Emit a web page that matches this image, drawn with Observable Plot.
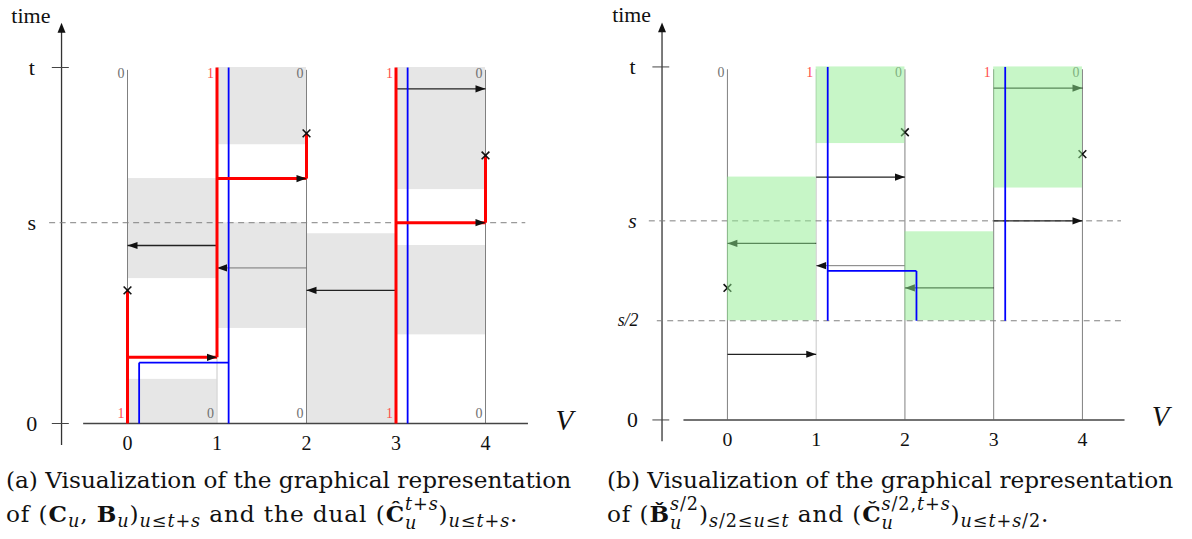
<!DOCTYPE html>
<html>
<head>
<meta charset="utf-8">
<script src="https://cdn.jsdelivr.net/npm/d3@7"></script>
<script src="https://cdn.jsdelivr.net/npm/@observablehq/plot@0.6"></script>
<style>
  html, body { margin: 0; padding: 0; background: #fff; }
  #wrap { position: relative; width: 1192px; height: 539px; overflow: hidden; }
  .panel { position: absolute; top: 0; }
  .cap { position: absolute; font-family: "DejaVu Serif", serif; font-size: 23.2px; line-height: 33.5px; color: #111; white-space: nowrap; }
  .cap .l2 { letter-spacing: 0.9px; }
  .cap sub { font-size: 0.76em; line-height: 0; vertical-align: -0.3em; }
  .cap .ss { display: inline-flex; flex-direction: column; align-items: flex-start; font-size: 0.76em; line-height: 1.1; vertical-align: 0.68em; margin-top: -6px; margin-bottom: -6px; }
  .cap .ss > span { display: block; }
</style>
</head>
<body>
<div id="wrap">
  <div class="panel" id="pa" style="left:0px"></div>
  <div class="panel" id="pb" style="left:601px"></div>
  <div class="cap" style="left:6px; top:463px">(a) Visualization of the graphical representation<br><span class="l2">of (<b>C</b><sub><i>u</i></sub>, <b>B</b><sub><i>u</i></sub>)<sub><i>u</i>≤<i>t</i>+<i>s</i></sub> and the dual (<b>Ĉ</b><span class="ss"><span><i>t</i>+<i>s</i></span><span><i>u</i></span></span>)<sub><i>u</i>≤<i>t</i>+<i>s</i></sub>.</span></div>
  <div class="cap" style="left:607px; top:463px">(b) Visualization of the graphical representation<br><span class="l2">of (<b>B&#780;</b><span class="ss"><span><i>s</i>/2</span><span><i>u</i></span></span>)<sub><i>s</i>/2≤<i>u</i>≤<i>t</i></sub> and (<b>Č</b><span class="ss"><span><i>s</i>/2,<i>t</i>+<i>s</i></span><span><i>u</i></span></span>)<sub><i>u</i>≤<i>t</i>+<i>s</i>/2</sub>.</span></div>
</div>
<script>
// ---- data (time measured so that t = 100) ----
const T = 100, S = 56.4, S2 = 28.1;
const columns = [0, 1, 2, 3, 4];
const xTicks = [0, 1, 2, 3, 4];
const topLabels = ["0", "1", "0", "1", "0"];
const bottomLabelsA = ["1", "0", "0", "1", "0"];
const yLabelsA = [{v: T, text: "t"}, {v: S, text: "s"}, {v: 0, text: "0"}];
const yLabelsB = [{v: T, text: "t"}, {v: S, text: "s", it: true}, {v: S2, text: "s/2", it: true}, {v: 0, text: "0"}];

const grayRectsA = [
  {x1: 1, x2: 2, y1: 78.3, y2: 100},
  {x1: 0, x2: 1, y1: 40.7, y2: 68.8},
  {x1: 1, x2: 2, y1: 26.7, y2: 56.4},
  {x1: 2, x2: 3, y1: 0, y2: 53.3},
  {x1: 3, x2: 4, y1: 65.7, y2: 100},
  {x1: 3, x2: 4, y1: 24.9, y2: 50.0},
  {x1: 0, x2: 1, y1: 0, y2: 12.4}
];
const greenRectsB = [
  {x1: 1, x2: 2, y1: 78.3, y2: 100},
  {x1: 0, x2: 1, y1: 28.1, y2: 68.8},
  {x1: 3, x2: 4, y1: 65.7, y2: 100},
  {x1: 2, x2: 3, y1: 28.1, y2: 53.3}
];
const arrowsA = [
  {x1: 3, x2: 4, y: 94},
  {x1: 1, x2: 0, y: 50},
  {x1: 2, x2: 1, y: 43.7, faint: true},
  {x1: 3, x2: 2, y: 37.4}
];
const redArrowsA = [
  {x1: 0, x2: 1, y: 18.6},
  {x1: 1, x2: 2, y: 68.8},
  {x1: 3, x2: 4, y: 56.4}
];
const redVerticalsA = [
  {x: 0, y1: 0, y2: 37.4},
  {x: 1, y1: 18.6, y2: 100},
  {x: 2, y1: 68.8, y2: 81.5},
  {x: 3, y1: 0, y2: 100},
  {x: 4, y1: 56.4, y2: 75.3}
];
const crosses = [{x: 0, y: 37.4}, {x: 2, y: 81.5}, {x: 4, y: 75.3}];
const blueA = [
  {x1: 0.13, y1: 0, x2: 0.13, y2: 17.1},
  {x1: 0.13, y1: 17.1, x2: 1.13, y2: 17.1},
  {x1: 1.13, y1: 0, x2: 1.13, y2: 100},
  {x1: 3.13, y1: 0, x2: 3.13, y2: 100}
];
const blueB = [
  {x1: 1.13, y1: 28.1, x2: 1.13, y2: 100},
  {x1: 1.13, y1: 42.2, x2: 2.13, y2: 42.2},
  {x1: 2.13, y1: 28.1, x2: 2.13, y2: 42.2},
  {x1: 3.13, y1: 28.1, x2: 3.13, y2: 100}
];
const arrowsB = [
  {x1: 3, x2: 4, y: 94},
  {x1: 1, x2: 2, y: 68.8},
  {x1: 3, x2: 4, y: 56.4},
  {x1: 1, x2: 0, y: 50},
  {x1: 2, x2: 1, y: 43.7, faint: true},
  {x1: 3, x2: 2, y: 37.4},
  {x1: 0, x2: 1, y: 18.6}
];

// ---- layout constants (data units) ----
const AX = -0.737;       // time axis position
const FONT = "'Liberation Serif', 'DejaVu Serif', serif";

const headRight = {draw(ctx) { ctx.moveTo(0, 0); ctx.lineTo(-10, -3.6); ctx.lineTo(-10, 3.6); ctx.closePath(); }};
const headLeft  = {draw(ctx) { ctx.moveTo(0, 0); ctx.lineTo(10, -3.6); ctx.lineTo(10, 3.6); ctx.closePath(); }};
const headUp    = {draw(ctx) { ctx.moveTo(0, 0); ctx.lineTo(-4, 10); ctx.lineTo(4, 10); ctx.closePath(); }};

function arrowMarks(data) {
  const strong = data.filter(d => !d.faint), faint = data.filter(d => d.faint);
  return [
    Plot.link(strong, {x1: "x1", x2: "x2", y1: "y", y2: "y", stroke: "#222", strokeWidth: 1.3}),
    Plot.link(faint, {x1: "x1", x2: "x2", y1: "y", y2: "y", stroke: "#6a6a6a", strokeWidth: 0.9}),
    Plot.dot(data.filter(d => d.x2 > d.x1), {x: "x2", y: "y", symbol: headRight, fill: "#111", stroke: "none"}),
    Plot.dot(data.filter(d => d.x2 < d.x1), {x: "x2", y: "y", symbol: headLeft, fill: "#111", stroke: "none"})
  ];
}

function axisMarks(yLabels, dashed) {
  return [
    Plot.ruleX([AX], {y1: -6.2, y2: 110, stroke: "#333", strokeWidth: 1.3}),
    Plot.dot([0], {x: AX, y: 112.6, symbol: headUp, fill: "#111", stroke: "none"}),
    Plot.ruleY([0], {x1: -0.49, x2: 4.48, stroke: "#444", strokeWidth: 1.4}),
    Plot.ruleY([0, T], {x1: -0.84, x2: -0.65, stroke: "#444", strokeWidth: 1}),
    ...dashed.map(d => Plot.ruleY([d.v], {x1: d.a, x2: d.b, stroke: "#808080", strokeWidth: 1, strokeDasharray: "6,4.5"})),
    Plot.text(["time"], {x: -1.08, y: 114.6, text: d => d, fontSize: 22, fill: "#111"}),
    Plot.text(yLabels.filter(d => !d.it), {x: -1.07, y: "v", text: "text", fontSize: 22, fill: "#111"}),
    Plot.text(yLabels.filter(d => d.it && d.text === "s"), {x: -1.07, y: "v", text: "text", fontSize: 22, fontStyle: "italic", fill: "#111"}),
    Plot.text(yLabels.filter(d => d.text === "s/2"), {x: -1.12, y: "v", text: "text", fontSize: 18, fontStyle: "italic", fill: "#111"}),
    Plot.text(xTicks, {x: d => d, y: -5.6, text: d => String(d), fontSize: 20, fill: "#111"}),
    Plot.text(["V"], {x: 4.88, y: 0.8, text: d => d, fontSize: 29, fontStyle: "italic", fill: "#111"})
  ];
}

function labelMarks(labels, yv) {
  const items = columns.map((c, i) => ({c, label: labels[i]}));
  return [
    Plot.text(items.filter(d => d.label === "1"), {x: "c", y: yv, dx: -3, textAnchor: "end", text: "label", fill: "#ff4d4d", fontSize: 14}),
    Plot.text(items.filter(d => d.label !== "1"), {x: "c", y: yv, dx: -3, textAnchor: "end", text: "label", fill: "#707070", fontSize: 14})
  ];
}

function columnMarks(bottom) {
  const m = [
    Plot.ruleX(columns.filter(c => c !== 1), {x: d => d, y1: 0, y2: 99.2, stroke: "#808080", strokeWidth: 1}),
    Plot.ruleX(columns.filter(c => c === 1), {x: d => d, y1: 0, y2: 99.2, stroke: "#c8c8c8", strokeWidth: 1}),
    ...labelMarks(topLabels, 98.3)
  ];
  if (bottom) m.push(...labelMarks(bottom, 2.8));
  return m;
}

const common = {
  width: 596, height: 460, margin: 0,
  x: {domain: [0, 4], range: [127, 485], axis: null},
  y: {domain: [0, 100], range: [423, 67], axis: null},
  style: {fontFamily: FONT, background: "transparent", overflow: "visible"}
};

const plotA = Plot.plot({
  ...common,
  marks: [
    Plot.rect(grayRectsA, {x1: "x1", x2: "x2", y1: "y1", y2: "y2", fill: "#e6e6e6"}),
    ...columnMarks(bottomLabelsA),
    ...axisMarks(yLabelsA, [{v: S, a: -0.87, b: 4.45}]),
    ...arrowMarks(arrowsA),
    Plot.link(blueA, {x1: "x1", y1: "y1", x2: "x2", y2: "y2", stroke: "#0000ff", strokeWidth: 1.8}),
    Plot.link(redVerticalsA, {x1: "x", x2: "x", y1: "y1", y2: "y2", stroke: "#ff0000", strokeWidth: 3}),
    Plot.link(redArrowsA, {x1: "x1", x2: "x2", y1: "y", y2: "y", stroke: "#ff0000", strokeWidth: 3}),
    Plot.dot(redArrowsA, {x: "x2", y: "y", symbol: headRight, fill: "#111", stroke: "none"}),
    Plot.dot(crosses, {x: "x", y: "y", symbol: "times", r: 3.6, stroke: "#111", strokeWidth: 1.6})
  ]
});

const plotB = Plot.plot({
  ...common,
  marks: [
    ...columnMarks(null),
    ...axisMarks(yLabelsB, [{v: S, a: -0.88, b: 4.44}, {v: S2, a: -0.79, b: 4.49}]),
    ...arrowMarks(arrowsB),
    Plot.dot(crosses, {x: "x", y: "y", symbol: "times", r: 3.6, stroke: "#111", strokeWidth: 1.6}),
    Plot.rect(greenRectsB, {x1: "x1", x2: "x2", y1: "y1", y2: "y2", fill: "#90ee90", fillOpacity: 0.5}),
    Plot.link(blueB, {x1: "x1", y1: "y1", x2: "x2", y2: "y2", stroke: "#0000ff", strokeWidth: 1.8})
  ]
});

document.getElementById("pa").appendChild(plotA);
document.getElementById("pb").appendChild(plotB);
</script>
</body>
</html>
